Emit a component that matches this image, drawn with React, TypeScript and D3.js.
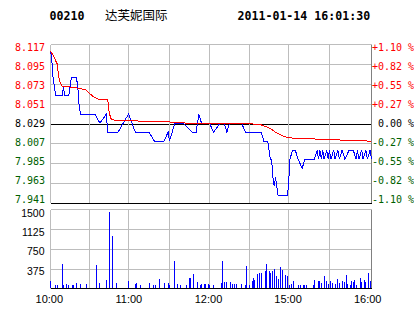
import React from 'react';
import * as d3 from 'd3';

const stockCode = '00210';
const stockName = '达芙妮国际';
const timestamp = '2011-01-14 16:01:30';

const priceTickValues = [8.117, 8.095, 8.073, 8.051, 8.029, 8.007, 7.985, 7.963, 7.941];
const pctTickLabels = ['+1.10 %', '+0.82 %', '+0.55 %', '+0.27 %', ' 0.00 %', '-0.27 %', '-0.55 %', '-0.82 %', '-1.10 %'];
const prevClose = 8.029;

const timeGridMinutes = [0, 30, 60, 90, 120, 150, 180, 210, 240];
const timeLabelMinutes = [0, 60, 120, 180, 240];
const timeLabelTexts = ['10:00', '11:00', '12:00', '15:00', '16:00'];

const volumeTickValues = [375, 750, 1125, 1500];

// [minute since 10:00 (trading minutes), price]
const priceSeries: [number, number][] = [
  [0, 8.11], [1, 8.10], [2, 8.08], [3, 8.07], [4, 8.06], [9, 8.06], [10, 8.07], [11, 8.06], [14, 8.06],
  [15, 8.07], [16, 8.08], [20, 8.08], [21, 8.07], [22, 8.05], [23, 8.04], [34, 8.04], [38, 8.03], [43, 8.04],
  [44, 8.02], [52, 8.02], [60, 8.04], [65, 8.02], [75, 8.02], [79, 8.01], [86, 8.01], [89, 8.02], [90, 8.01],
  [94, 8.03], [100, 8.03], [107, 8.02], [110, 8.02], [112, 8.04], [114, 8.03], [120, 8.03], [123, 8.02],
  [128, 8.03], [131, 8.03], [133, 8.02], [135, 8.03], [144, 8.03], [147, 8.02], [159, 8.02], [161, 8.01],
  [164, 8.01], [166, 7.99], [167, 7.99], [168, 7.97], [169, 7.96], [170, 7.97], [171, 7.96], [172, 7.95],
  [179, 7.95], [180, 7.96], [181, 7.99], [183, 8.00], [185, 8.00], [187, 7.99], [190, 7.98], [192, 7.99],
  [199, 7.99], [201, 8.00], [202, 7.99], [203, 8.00], [204, 7.99], [205, 8.00], [206, 7.99], [208, 8.00],
  [209, 7.99], [210, 8.00], [211, 7.99], [213, 8.00], [214, 7.99], [216, 8.00], [217, 7.99], [219, 8.00],
  [221, 7.99], [224, 8.00], [227, 8.00], [229, 7.99], [230, 8.00], [231, 7.99], [233, 8.00], [234, 7.99],
  [236, 8.00], [237, 7.99], [239, 8.00], [240, 7.99],
];

const averageSeries: [number, number][] = [
  [0, 8.110], [2, 8.105], [5, 8.096], [6, 8.085], [7, 8.076], [9, 8.071], [20, 8.069], [27, 8.067],
  [30, 8.063], [33, 8.059], [37, 8.0565], [44, 8.056], [45, 8.043], [46, 8.037], [47, 8.0335], [72, 8.032],
  [86, 8.0316], [105, 8.0298], [120, 8.0295], [150, 8.0295], [159, 8.028], [163, 8.026], [167, 8.023],
  [171, 8.019], [176, 8.0156], [180, 8.0137], [189, 8.013], [206, 8.012], [222, 8.011], [240, 8.010],
];

const volumeSeries: [number, number][] = [
  [0, 150], [4, 65], [5, 65], [9, 480], [10, 65], [12, 80], [14, 65], [17, 60], [18, 60], [20, 100], [23, 85],
  [28, 85], [35, 460], [38, 105], [43, 165], [45, 1495], [48, 1030], [51, 105], [60, 145], [65, 85], [66, 105],
  [69, 65], [75, 105], [78, 65], [80, 65], [83, 185], [86, 105], [89, 105], [90, 65], [94, 540], [96, 85],
  [98, 65], [103, 65], [105, 205], [106, 205], [108, 285], [111, 125], [113, 65], [114, 85], [116, 85],
  [117, 85], [119, 85], [120, 65], [123, 65], [129, 105], [130, 540], [131, 125], [133, 125], [136, 125],
  [137, 85], [139, 85], [140, 85], [144, 85], [147, 65], [148, 440], [150, 65], [152, 145], [153, 205],
  [154, 165], [156, 285], [158, 300], [159, 300], [162, 340], [163, 480], [165, 340], [166, 300], [168, 340],
  [169, 380], [171, 245], [172, 185], [174, 420], [175, 360], [178, 265], [179, 245], [181, 65], [182, 85],
  [184, 145], [187, 65], [189, 65], [191, 65], [192, 65], [193, 65], [198, 65], [199, 165], [202, 145],
  [203, 145], [204, 105], [206, 245], [208, 145], [209, 85], [211, 145], [212, 105], [214, 85], [216, 185],
  [217, 105], [219, 145], [221, 125], [222, 265], [223, 85], [225, 65], [226, 145], [227, 125], [228, 165],
  [229, 65], [232, 205], [233, 125], [235, 165], [236, 125], [238, 300], [239, 145],
];

const W = 414;
const H = 314;
const GRID = '#bdbdbd';
const FRAME_R = '#808080';
const RED = '#ff0000';
const GREEN = '#006000';
const BLUE = '#0000ff';

const mono = '"DejaVu Sans Mono", monospace';
const sans = '"Liberation Sans", Arial, sans-serif';

export default function App() {
  const gridX = [50.5, 89.5, 128.5, 169.5, 209.5, 249.5, 288.5, 329.5, 371.5];
  const xs = d3.scaleLinear().domain(timeGridMinutes).range(gridX);
  const left = gridX[0];
  const right = gridX[gridX.length - 1];

  const pTop = 44.5;
  const pBot = 203.5;
  const ys = d3.scaleLinear().domain([7.941, 8.117]).range([pBot, pTop]);
  const labelY = d3.scaleLinear().domain([7.941, 8.117]).range([199.3, 47.7]);

  const vTop = 209.5;
  const vBot = 288.5;
  const vs = d3.scaleLinear().domain([0, 1545]).range([vBot, vTop]);

  const labelX = d3.scaleLinear().domain([0, 240]).range([49.3, 367.7]);

  const line = d3
    .line<[number, number]>()
    .x((d) => xs(d[0]))
    .y((d) => ys(d[1]));

  const snap = (v: number) => Math.floor(v) + 0.5;

  const volGridY = [1, 2, 3].map((i) => Math.round(vTop + (i * (vBot - vTop)) / 4) + 0.5);

  return (
    <svg
      width={W}
      height={H}
      style={{ position: 'absolute', left: 0, top: 0, background: '#fff' }}
      xmlns="http://www.w3.org/2000/svg"
    >
      <rect x={0} y={0} width={W} height={H} fill="#fff" />

      {/* header */}
      <text x={49.5} y={20} fontFamily={mono} fontWeight="bold" fontSize={11.6} fill="#000">
        {stockCode}
      </text>
      <text x={105} y={19.5} fontFamily='"Noto Sans CJK SC", sans-serif' fontSize={12.5} fill="#000">
        {stockName}
      </text>
      <text x={237.5} y={20} fontFamily={mono} fontWeight="bold" fontSize={11.6} fill="#000">
        {timestamp}
      </text>

      {/* price panel grid */}
      <g shapeRendering="crispEdges">
        {priceTickValues.map((v, i) => {
          const y = snap(ys(v));
          const isBlack = v === prevClose || i === priceTickValues.length - 1;
          return (
            <line key={'h' + i} x1={left} x2={right} y1={y} y2={y} stroke={isBlack ? '#000' : GRID} strokeWidth={1} />
          );
        })}
        {timeGridMinutes.map((m, i) => {
          const x = xs(m);
          return (
            <line
              key={'v' + i}
              x1={x}
              x2={x}
              y1={pTop}
              y2={pBot - 1}
              stroke={i === timeGridMinutes.length - 1 ? FRAME_R : GRID}
              strokeWidth={1}
            />
          );
        })}
      </g>

      {/* price & average lines */}
      <path d={line(priceSeries) || ''} fill="none" stroke={BLUE} strokeWidth={1} shapeRendering="crispEdges" />
      <path d={line(averageSeries) || ''} fill="none" stroke={RED} strokeWidth={1} shapeRendering="crispEdges" />

      {/* left price labels */}
      {priceTickValues.map((v, i) => {
        const color = v > prevClose + 1e-9 ? RED : v < prevClose - 1e-9 ? GREEN : '#000';
        return (
          <text
            key={'pl' + i}
            x={45}
            y={labelY(v)}
            dy="0.36em"
            textAnchor="end"
            fontFamily={mono}
            fontSize={10}
            fill={color}
          >
            {v.toFixed(3)}
          </text>
        );
      })}

      {/* right percent labels */}
      {priceTickValues.map((v, i) => {
        const color = v > prevClose + 1e-9 ? RED : v < prevClose - 1e-9 ? GREEN : '#000';
        return (
          <text
            key={'pr' + i}
            x={372}
            y={labelY(v)}
            dy="0.36em"
            fontFamily={mono}
            fontSize={10}
            fill={color}
            style={{ whiteSpace: 'pre' }}
          >
            {pctTickLabels[i]}
          </text>
        );
      })}

      {/* volume panel grid */}
      <g shapeRendering="crispEdges">
        <line x1={left} x2={right} y1={vTop} y2={vTop} stroke={GRID} />
        {volGridY.map((y, i) => (
          <line key={'vg' + i} x1={left} x2={right} y1={y} y2={y} stroke={GRID} />
        ))}
        {timeGridMinutes.map((m, i) => {
          const x = xs(m);
          return (
            <line
              key={'vv' + i}
              x1={x}
              x2={x}
              y1={vTop}
              y2={vBot}
              stroke={i === timeGridMinutes.length - 1 ? FRAME_R : GRID}
            />
          );
        })}
        {volumeSeries.map(([m, v], i) => {
          const y = Math.round(vs(v));
          return <rect key={'b' + i} x={Math.floor(xs(m))} y={y} width={1} height={Math.floor(vBot) - y} fill={BLUE} />;
        })}
        <line x1={left} x2={right} y1={vBot} y2={vBot} stroke="#000" />
      </g>

      {/* volume labels */}
      {volumeTickValues.map((v, i) => (
        <text
          key={'vl' + i}
          x={44.5}
          y={vs(v) + 1.5}
          dy="0.36em"
          textAnchor="end"
          fontFamily={sans}
          fontSize={10.5}
          fill="#000"
        >
          {v}
        </text>
      ))}

      {/* time labels */}
      {timeLabelMinutes.map((m, i) => (
        <text key={'t' + i} x={labelX(m)} y={302.5} textAnchor="middle" fontFamily={sans} fontSize={11} fill="#000">
          {timeLabelTexts[i]}
        </text>
      ))}
    </svg>
  );
}
